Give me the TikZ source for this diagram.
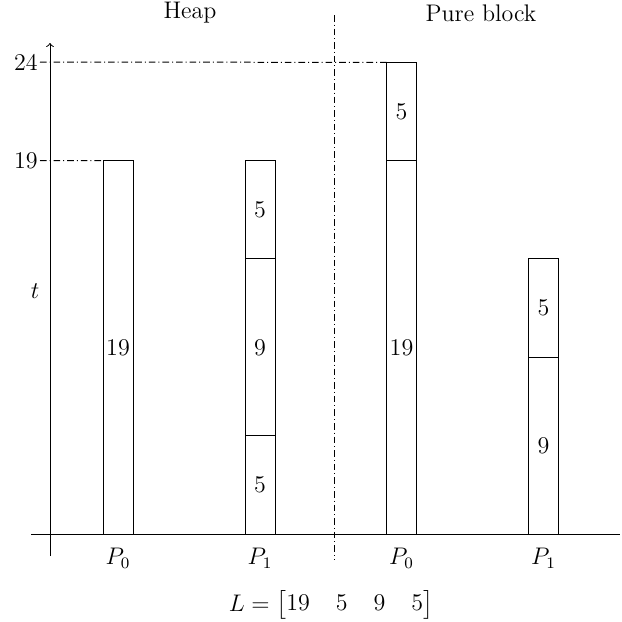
\documentclass[tikz,border=0pt]{standalone}
\usepackage{amsmath}
\begin{document}
\begin{tikzpicture}[x=0.5pt,y=-0.5pt,font=\large,
  seg/.style={draw,line width=0.5pt,minimum width=15pt,inner sep=0pt,outer sep=0pt,anchor=south},
  dd/.style={line width=0.5pt,dash pattern=on 3.3pt off 1.5pt on 0.5pt off 1.5pt},
  lbl/.style={inner sep=1pt}]
\useasboundingbox (0,0) rectangle (622,622);
\def\u{9.825pt}
% axes
\draw[line width=0.5pt,->] (50,556) -- (50,43);
\draw[line width=0.5pt] (31,534) -- (620,534);
% heap P0
\node[seg,minimum height=19*\u] (hA) at (118,534) {19};
% heap P1
\node[seg,minimum height=5*\u] (hB1) at (260,534) {5};
\node[seg,minimum height=9*\u] (hB2) at (hB1.north) {9};
\node[seg,minimum height=5*\u] (hB3) at (hB2.north) {5};
% pure P0
\node[seg,minimum height=19*\u] (pA1) at (401.5,534) {19};
\node[seg,minimum height=5*\u] (pA2) at (pA1.north) {5};
% pure P1
\node[seg,minimum height=9*\u] (pB1) at (543.5,534) {9};
\node[seg,minimum height=5*\u] (pB2) at (pB1.north) {5};
% separators
\coordinate (sepT) at (334,15);
\coordinate (sepB) at (334,560);
\draw[dd] (sepT) -- (sepB);
\coordinate (t24) at (40,62);
\coordinate (t19) at (40,160.7);
\draw[dd] (t24) -- (pA2.north west);
\draw[dd] (t19) -- (hA.north west);
% labels
\node[lbl,anchor=east] (l24) at (t24) {24};
\node[lbl,anchor=east] (l19) at (t19) {19};
\node (tlab) at (35,291) {$t$};
\node (heap) at (190,13) {Heap};
\node (pure) at (481,13) {Pure block};
\node (x1) at (118,558) {$P_0$};
\node (x2) at (260,558) {$P_1$};
\node (x3) at (401.5,558) {$P_0$};
\node (x4) at (543.5,558) {$P_1$};
\node (L) at (331,605) {\setlength\arraycolsep{6.5pt}$L = \begin{bmatrix}19 & 5 & 9 & 5\end{bmatrix}$};
\end{tikzpicture}
\end{document}
